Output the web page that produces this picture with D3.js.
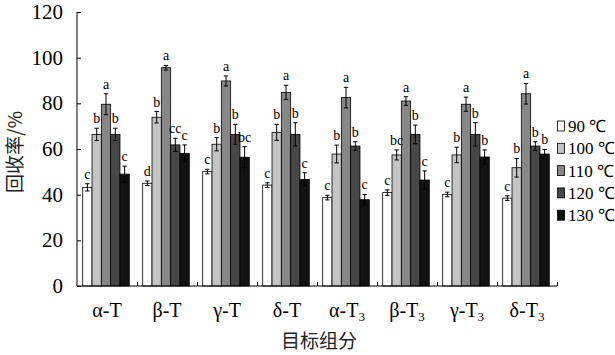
<!DOCTYPE html>
<html><head><meta charset="utf-8">
<script src="https://cdn.jsdelivr.net/npm/d3@7"></script>
<style>body{margin:0;background:#fff}svg{display:block}</style>
</head><body><svg id="c" width="615" height="355"></svg>
<script>
const categories = ["α-T","β-T","γ-T","δ-T","α-T3","β-T3","γ-T3","δ-T3"];
const seriesNames = ["90 ℃","100 ℃","110 ℃","120 ℃","130 ℃"];
const v90  = [43.2, 45.0, 50.1, 44.2, 38.7, 40.9, 40.1, 38.5];
const v100 = [66.4, 73.9, 62.1, 67.3, 57.8, 57.4, 57.4, 51.8];
const v110 = [79.6, 95.6, 89.8, 84.8, 82.5, 81.0, 79.6, 84.2];
const v120 = [66.4, 61.8, 66.4, 66.4, 61.3, 66.4, 66.4, 61.3];
const v130 = [49.0, 58.1, 56.4, 46.7, 37.8, 46.4, 56.5, 57.8];
const e90  = [1.6, 1.0, 1.0, 1.0, 1.0, 1.2, 1.0, 1.0];
const e100 = [2.7, 2.5, 2.9, 3.5, 3.9, 2.2, 3.4, 4.1];
const e110 = [4.6, 1.0, 2.2, 3.1, 4.5, 1.9, 3.1, 4.5];
const e120 = [2.7, 2.9, 4.4, 5.1, 1.9, 4.1, 5.1, 1.9];
const e130 = [3.5, 3.7, 4.6, 2.9, 2.3, 4.0, 3.1, 2.0];
const l90  = ["c","d","c","c","c","c","c","c"];
const l100 = ["b","b","b","b","b","bc","b","b"];
const l110 = ["a","a","a","a","a","a","a","a"];
const l120 = ["b","cc","b","b","b","b","b","b"];
const l130 = ["c","c","bc","c","c","c","b","b"];
const yTicks = [0,20,40,60,80,100,120];

const values = [v90,v100,v110,v120,v130];
const errs = [e90,e100,e110,e120,e130];
const letters = [l90,l100,l110,l120,l130];
const colors = ["#ffffff","#c4c4c4","#878787","#474747","#111111"];
const SERIF = "'Liberation Serif'";
const CJK = "'Noto Sans CJK SC'";

const svg = d3.select("#c");

const x0 = d3.scaleBand().domain(categories).range([77,557]);
const x1 = d3.scaleBand().domain(d3.range(5)).range([5.7, 52.3]);
const y = d3.scaleLinear().domain([0,120]).range([286,12]);

const data = [];
categories.forEach((c,i)=>{
  for(let s=0;s<5;s++) data.push({c, s, v:values[s][i], e:errs[s][i], l:letters[s][i]});
});
const cx = d=>x0(d.c)+x1(d.s)+x1.bandwidth()/2;

const g = svg.append("g");
g.selectAll("rect.bar").data(data).join("rect")
  .attr("x", d=>x0(d.c)+x1(d.s)).attr("width", x1.bandwidth())
  .attr("y", d=>y(d.v)).attr("height", d=>y(0)-y(d.v))
  .attr("fill", d=>colors[d.s]).attr("stroke","#000").attr("stroke-width",0.8);

const eb = g.selectAll("g.eb").data(data).join("g");
eb.append("line").attr("x1",cx).attr("x2",cx)
  .attr("y1",d=>y(d.v-d.e)).attr("y2",d=>y(d.v+d.e)).attr("stroke","#000").attr("stroke-width",1);
[1,-1].forEach(sg=>{
  eb.append("line").attr("x1",d=>cx(d)-2.2).attr("x2",d=>cx(d)+2.2)
    .attr("y1",d=>y(d.v+sg*d.e)).attr("y2",d=>y(d.v+sg*d.e)).attr("stroke","#000").attr("stroke-width",1);
});
g.selectAll("text.lt").data(data).join("text")
  .style("font-family",SERIF).style("font-size","14px")
  .attr("x",cx).attr("y",d=>y(d.v+d.e)-5)
  .attr("text-anchor","middle").attr("fill","#000").text(d=>d.l);

// axes
const ya = svg.append("g").attr("transform","translate(77,0)")
  .call(d3.axisRight(y).tickValues(yTicks).tickSize(4).tickFormat(""));
ya.select(".domain").attr("d","M0,12V286");
ya.selectAll("line").attr("stroke","#000");
svg.append("g").selectAll("text").data(yTicks).join("text")
  .style("font-family",SERIF).style("font-size","21px")
  .attr("x",63).attr("y",d=>y(d)+7).attr("text-anchor","end").text(d=>d);

const bounds = categories.map(c=>x0(c)+x0.bandwidth());
const xa = svg.append("g").attr("transform","translate(0,286)")
  .call(d3.axisTop(d3.scaleLinear().domain([77,557]).range([77,557])).tickValues(bounds).tickSize(4).tickFormat(""));
xa.select(".domain").attr("d","M77,0H557");
xa.selectAll("line").attr("stroke","#000");

const xl = svg.append("g").selectAll("text").data(categories).join("text")
  .style("font-family",SERIF).style("font-size","20px")
  .attr("x",c=>x0(c)+x0.bandwidth()/2).attr("y",317).attr("text-anchor","middle");
xl.each(function(c){
  const t = d3.select(this);
  if(c.endsWith("3")){
    t.append("tspan").text(c.slice(0,-1));
    t.append("tspan").style("font-size","13px").attr("dy",4).text("3");
  } else t.text(c);
});

svg.append("text").style("font-family",CJK).style("font-size","19px")
  .attr("x",319).attr("y",348).attr("text-anchor","middle").attr("fill","#222").text("目标组分");
svg.append("text").style("font-family",CJK).style("font-size","19px")
  .attr("transform","translate(22,152) rotate(-90)").attr("text-anchor","middle").attr("fill","#222").text("回收率/%");

// legend
const lg = svg.append("g").selectAll("g").data(seriesNames).join("g")
  .attr("transform",(d,i)=>`translate(557,${126+i*22.3})`);
lg.append("rect").attr("x",0.5).attr("y",-5).attr("width",7).attr("height",10)
  .attr("fill",(d,i)=>colors[i]).attr("stroke","#000").attr("stroke-width",0.8);
lg.append("text").style("font-family",SERIF).style("font-size","17px")
  .attr("x",11).attr("y",6).text(d=>d);
</script></body></html>
